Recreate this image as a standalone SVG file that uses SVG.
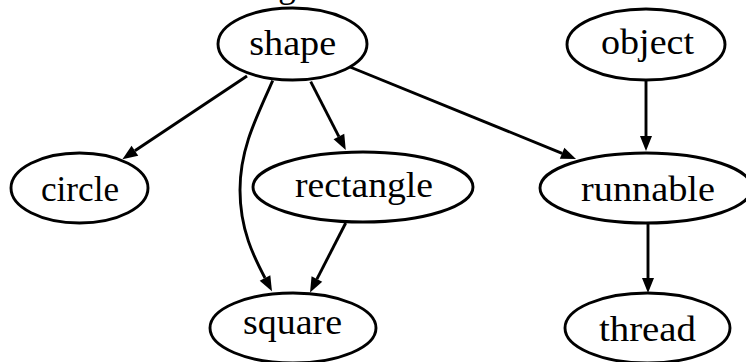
<svg xmlns="http://www.w3.org/2000/svg" width="746" height="362" viewBox="0 0 746 362" font-family="'Liberation Serif', 'Times New Roman', serif">
<style>
.n ellipse{fill:#fff;stroke:#000;stroke-width:2.9}
text{font-family:'Liberation Serif','Times New Roman',serif;font-size:35px;fill:#000;text-anchor:middle}
#edges path{fill:none;stroke:#000;stroke-width:2.9;marker-end:url(#ah)}
</style>
<defs>
<marker id="ah" markerUnits="userSpaceOnUse" markerWidth="18" markerHeight="14" refX="0" refY="6" orient="auto" overflow="visible">
<path d="M0,0 L15,6 L0,12 z" fill="#000"/>
</marker>
</defs>
<rect width="746" height="362" fill="#fff"/>
<text x="287" y="-3.5">g</text>
<g id="edges">
<path d="M247,76 L134.9,150.8"/>
<path d="M310.7,81.7 L338.9,136.6"/>
<path d="M350,67 L562.1,153.3"/>
<path d="M646,80 L646,136"/>
<path d="M648,223 L648,278"/>
<path d="M345.7,223 L316.9,279.1"/>
<path d="M272.7,80.7 C255,120 240,150 240,190 C240,230 254,257 265,278"/>
</g>
<g id="shape" class="n"><ellipse cx="292.5" cy="44" rx="74.5" ry="36"/><text x="292.7" y="55" textLength="87" lengthAdjust="spacingAndGlyphs">shape</text></g>
<g id="object" class="n"><ellipse cx="646" cy="44.5" rx="79" ry="35.5"/><text x="647.5" y="54" textLength="93" lengthAdjust="spacingAndGlyphs">object</text></g>
<g id="circle" class="n"><ellipse cx="79.5" cy="188" rx="68.5" ry="35"/><text x="80" y="201" textLength="78" lengthAdjust="spacingAndGlyphs">circle</text></g>
<g id="rectangle" class="n"><ellipse cx="363" cy="187" rx="110" ry="35"/><text x="364" y="196.5" textLength="138" lengthAdjust="spacingAndGlyphs">rectangle</text></g>
<g id="runnable" class="n"><ellipse cx="646" cy="188" rx="106" ry="35"/><text x="648" y="201" textLength="134" lengthAdjust="spacingAndGlyphs">runnable</text></g>
<g id="square" class="n"><ellipse cx="293" cy="328" rx="83" ry="35"/><text x="292.5" y="334" textLength="99" lengthAdjust="spacingAndGlyphs">square</text></g>
<g id="thread" class="n"><ellipse cx="647.5" cy="328" rx="82.5" ry="35"/><text x="647.5" y="340.5" textLength="97" lengthAdjust="spacingAndGlyphs">thread</text></g>
</svg>
